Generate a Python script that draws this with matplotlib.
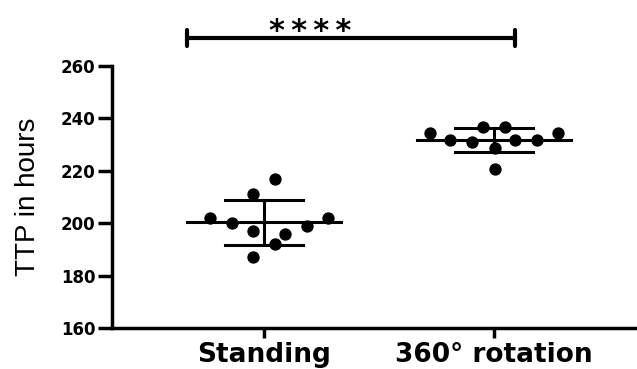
import numpy as np
import matplotlib
matplotlib.use("Agg")
import matplotlib.pyplot as plt

# data
groups = ["Standing", "360° rotation"]
standing = [217, 211, 202, 200, 197, 196, 199, 202, 192, 187]
rotation = [234.4, 231.8, 231, 236.7, 236.7, 228.7, 231.8, 231.8, 234.4, 220.7]
# horizontal scatter of the dots, as in the picture
standing_dx = [0.048, -0.048, -0.235, -0.139, -0.048, 0.091, 0.187, 0.278, 0.048, -0.048]
rotation_dx = [-0.278, -0.191, -0.096, -0.048, 0.048, 0.004, 0.091, 0.187, 0.278, 0.004]
yticks = [160, 180, 200, 220, 240, 260]
stars = "\u2009".join("****")

fig = plt.figure(figsize=(6.37, 3.69), dpi=100)
ax = fig.add_axes([0.1758, 0.1111, 0.8242, 0.710])

for i, (vals, dx) in enumerate([(standing, standing_dx), (rotation, rotation_dx)]):
    vals = np.array(vals)
    m = vals.mean()
    sd = vals.std(ddof=1)
    ax.scatter(i + np.array(dx), vals, s=62, color="black", zorder=3)
    # mean line and SD bar
    ax.plot([i - 0.335, i + 0.335], [m, m], color="black", lw=2.2, zorder=2)
    ax.plot([i, i], [m - sd, m + sd], color="black", lw=2.2, zorder=2)
    for y in (m - sd, m + sd):
        ax.plot([i - 0.17, i + 0.17], [y, y], color="black", lw=2.2, zorder=2)

# significance bar
bar_y = 270.6
ax.plot([-0.335, 1.091], [bar_y, bar_y], color="black", lw=3, clip_on=False,
        solid_capstyle="butt")
for x in (-0.335, 1.091):
    ax.plot([x, x], [bar_y - 3, bar_y + 3], color="black", lw=3, clip_on=False,
            solid_capstyle="round")
ax.text(0.2, 270.0, stars, ha="center", va="baseline", fontsize=22,
        fontweight="bold", family="DejaVu Sans")

ax.set_xlim(-0.661, 1.622)
ax.set_ylim(160, 260)
ax.set_xticks([0, 1])
ax.set_xticklabels(groups, fontsize=19, fontweight="bold", family="DejaVu Sans")
ax.set_yticks(yticks)
ax.set_yticklabels([str(t) for t in yticks], fontsize=12, fontweight="bold",
                   family="DejaVu Sans")
ax.tick_params(axis="y", length=10, width=2.5, pad=2)
ax.tick_params(axis="x", length=7, width=2.5, pad=3)
ax.set_ylabel("TTP in hours", fontsize=20, family="Liberation Sans", labelpad=14)

for s in ("top", "right"):
    ax.spines[s].set_visible(False)
for s in ("left", "bottom"):
    ax.spines[s].set_linewidth(2.5)

fig.savefig("out.png", dpi=100)
